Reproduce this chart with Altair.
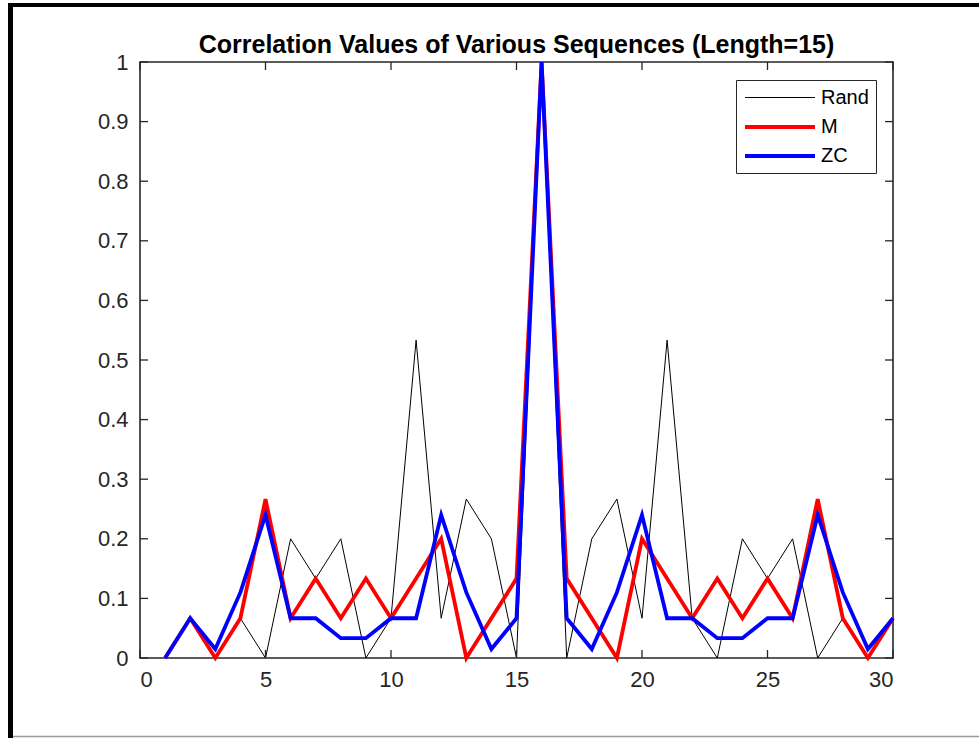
import altair as alt
import pandas as pd

# ---- data ----
lags = list(range(1, 31))
rand_vals = [0, 0.0667, 0, 0.0667, 0, 0.2, 0.1333, 0.2, 0, 0.0667,
             0.5333, 0.0667, 0.2667, 0.2, 0, 1.0, 0, 0.2, 0.2667, 0.0667,
             0.5333, 0.0667, 0, 0.2, 0.1333, 0.2, 0, 0.0667, 0, 0.0667]
m_vals = [0, 0.0667, 0, 0.0667, 0.2667, 0.0667, 0.1333, 0.0667, 0.1333, 0.0667,
          0.1333, 0.2, 0, 0.0667, 0.1333, 1.0, 0.1333, 0.0667, 0, 0.2,
          0.1333, 0.0667, 0.1333, 0.0667, 0.1333, 0.0667, 0.2667, 0.0667, 0, 0.0667]
zc_vals = [0, 0.0667, 0.015, 0.11, 0.24, 0.0667, 0.0667, 0.0333, 0.0333, 0.0667,
           0.0667, 0.24, 0.11, 0.015, 0.0667, 1.0, 0.0667, 0.015, 0.11, 0.24,
           0.0667, 0.0667, 0.0333, 0.0333, 0.0667, 0.0667, 0.24, 0.11, 0.015, 0.0667]

series_names = ["Rand", "M", "ZC"]
series_colors = ["#000000", "#FF0000", "#0000FF"]
series_widths = [1, 3.8, 3.8]

x_ticks = [0, 5, 10, 15, 20, 25, 30]
y_ticks = [0, 0.1, 0.2, 0.3, 0.4, 0.5, 0.6, 0.7, 0.8, 0.9, 1]

title_text = "Correlation Values of Various Sequences (Length=15)"

rows = []
for name, vals in zip(series_names, [rand_vals, m_vals, zc_vals]):
    for x, v in zip(lags, vals):
        rows.append({"lag": x, "value": v, "series": name})
df = pd.DataFrame(rows)

W, H = 753, 596
FONT = "Liberation Sans"
AX = "#262626"

color_scale = alt.Scale(domain=series_names, range=series_colors)
width_scale = alt.Scale(type="ordinal", domain=series_names, range=series_widths)

xs = alt.Scale(domain=[0, 30], nice=False)
ys = alt.Scale(domain=[0, 1], nice=False)

legend = alt.Legend(
    title=None, orient="none", legendX=596, legendY=18,
    symbolType="M-1,0H6", symbolSize=400, labelFont=FONT, labelFontSize=20,
    labelColor="#000000", fillColor="white", strokeColor=AX, padding=7,
    rowPadding=7, labelOffset=54,
)

layers = []
for name in series_names:
    layers.append(
        alt.Chart(df).transform_filter(alt.datum.series == name).mark_line().encode(
            x=alt.X("lag:Q", scale=xs,
                    axis=alt.Axis(values=x_ticks, title=None, grid=False, ticks=False,
                                  domain=False, labelFont=FONT, labelFontSize=22,
                                  labelColor=AX, labelPadding=11)),
            y=alt.Y("value:Q", scale=ys,
                    axis=alt.Axis(values=y_ticks, title=None, grid=False, ticks=False,
                                  domain=False, labelFont=FONT, labelFontSize=22,
                                  labelColor=AX, labelPadding=12,
                                  labelExpr="datum.value == 0 ? '0' : datum.value == 1 ? '1' : format(datum.value, '.1f')")),
            color=alt.Color("series:N", scale=color_scale, legend=legend),
            strokeWidth=alt.StrokeWidth("series:N", scale=width_scale, legend=legend),
        )
    )

xt = pd.DataFrame({"t": x_ticks})
yt = pd.DataFrame({"t": y_ticks})
tick_style = dict(color=AX, strokeWidth=1.3)
xb = alt.Chart(xt).mark_rule(**tick_style).encode(x=alt.X("t:Q", scale=xs), y=alt.value(H), y2=alt.value(H - 8))
xtp = alt.Chart(xt).mark_rule(**tick_style).encode(x=alt.X("t:Q", scale=xs), y=alt.value(0), y2=alt.value(8))
yl = alt.Chart(yt).mark_rule(**tick_style).encode(y=alt.Y("t:Q", scale=ys), x=alt.value(0), x2=alt.value(8))
yr = alt.Chart(yt).mark_rule(**tick_style).encode(y=alt.Y("t:Q", scale=ys), x=alt.value(W), x2=alt.value(W - 8))

# title as text + screenshot frame decoration
frame = pd.DataFrame({"k": [0]})
title = alt.Chart(frame).mark_text(
    text=title_text, font=FONT, fontSize=25, fontWeight="bold", color="#000000",
    align="center", baseline="alphabetic").encode(x=alt.value(W / 2), y=alt.value(-9))
left_bar = alt.Chart(frame).mark_rect(color="#000000").encode(
    x=alt.value(-132), x2=alt.value(-127), y=alt.value(-59), y2=alt.value(676))
top_bar = alt.Chart(frame).mark_rect(color="#000000").encode(
    x=alt.value(-132), x2=alt.value(839), y=alt.value(-59), y2=alt.value(-55))
bottom_line = alt.Chart(frame).mark_rule(color="#999999", strokeWidth=1.5).encode(
    x=alt.value(-127), x2=alt.value(839), y=alt.value(674.5))

chart = alt.layer(*layers, xb, xtp, yl, yr, title, left_bar, top_bar, bottom_line).resolve_scale(
    color="shared", strokeWidth="shared"
).properties(
    width=W, height=H,
    autosize=alt.AutoSizeParams(type="none"),
    padding={"left": 140, "top": 62, "right": 86, "bottom": 80},
    background="white",
).configure_view(stroke=AX, strokeWidth=1.6)

chart.save("out.html", embed_options={"renderer": "svg", "actions": False})
